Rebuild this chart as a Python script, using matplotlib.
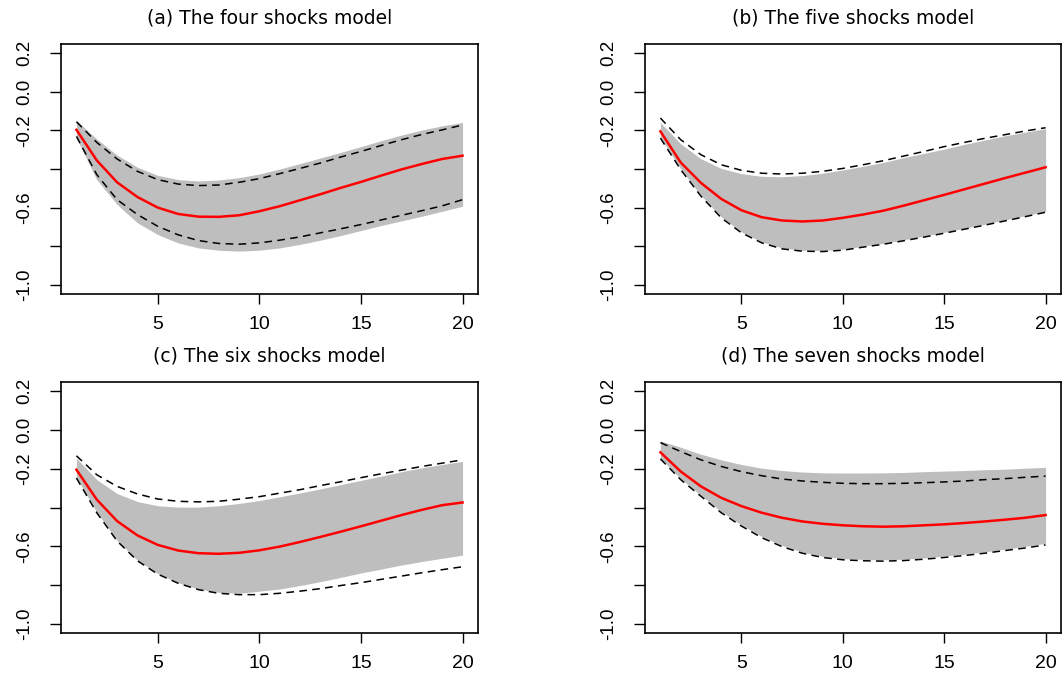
import numpy as np
import matplotlib
matplotlib.use("Agg")
import matplotlib.pyplot as plt

plt.rcParams["font.family"] = ["Liberation Sans", "DejaVu Sans"]

horizon = np.arange(1, 21)

# (a) four shocks
a_mean = [-0.197, -0.355, -0.469, -0.545, -0.600, -0.633, -0.647, -0.648, -0.640, -0.619,
          -0.593, -0.562, -0.531, -0.498, -0.467, -0.434, -0.402, -0.374, -0.348, -0.331]
a_hi = [-0.155, -0.262, -0.348, -0.412, -0.455, -0.478, -0.486, -0.483, -0.469, -0.450,
        -0.424, -0.397, -0.369, -0.338, -0.309, -0.278, -0.248, -0.221, -0.197, -0.172]
a_lo = [-0.231, -0.429, -0.559, -0.636, -0.697, -0.741, -0.771, -0.786, -0.790, -0.783,
        -0.769, -0.752, -0.731, -0.710, -0.688, -0.664, -0.640, -0.616, -0.591, -0.559]
a_band_hi = [-0.148, -0.245, -0.328, -0.391, -0.433, -0.455, -0.462, -0.457, -0.445, -0.426,
             -0.400, -0.372, -0.343, -0.314, -0.284, -0.253, -0.224, -0.198, -0.176, -0.159]
a_band_lo = [-0.240, -0.455, -0.584, -0.679, -0.740, -0.783, -0.809, -0.821, -0.826, -0.821,
             -0.809, -0.791, -0.769, -0.745, -0.719, -0.693, -0.669, -0.645, -0.619, -0.593]

# (b) five shocks
b_mean = [-0.205, -0.366, -0.472, -0.555, -0.614, -0.650, -0.667, -0.672, -0.667, -0.653,
          -0.636, -0.616, -0.590, -0.562, -0.534, -0.505, -0.476, -0.447, -0.419, -0.391]
b_hi = [-0.136, -0.248, -0.326, -0.378, -0.407, -0.422, -0.426, -0.422, -0.412, -0.397,
        -0.378, -0.357, -0.333, -0.309, -0.284, -0.262, -0.241, -0.222, -0.203, -0.186]
b_lo = [-0.240, -0.403, -0.541, -0.653, -0.731, -0.783, -0.814, -0.826, -0.828, -0.821,
        -0.805, -0.790, -0.772, -0.753, -0.733, -0.712, -0.691, -0.669, -0.647, -0.624]
b_band_hi = [-0.159, -0.269, -0.347, -0.397, -0.424, -0.438, -0.440, -0.434, -0.422, -0.405,
             -0.386, -0.366, -0.341, -0.319, -0.297, -0.272, -0.250, -0.228, -0.209, -0.191]
b_band_lo = [-0.236, -0.399, -0.537, -0.648, -0.726, -0.778, -0.809, -0.821, -0.823, -0.816,
             -0.800, -0.785, -0.767, -0.748, -0.728, -0.707, -0.686, -0.664, -0.642, -0.619]

# (c) six shocks
c_mean = [-0.205, -0.359, -0.470, -0.544, -0.593, -0.622, -0.636, -0.639, -0.634, -0.621,
          -0.602, -0.578, -0.552, -0.525, -0.497, -0.468, -0.439, -0.412, -0.388, -0.374]
c_hi = [-0.133, -0.231, -0.291, -0.330, -0.356, -0.368, -0.371, -0.368, -0.357, -0.344,
        -0.326, -0.308, -0.287, -0.267, -0.246, -0.226, -0.207, -0.188, -0.171, -0.154]
c_lo = [-0.248, -0.427, -0.573, -0.675, -0.744, -0.791, -0.824, -0.843, -0.850, -0.850,
        -0.843, -0.832, -0.819, -0.803, -0.788, -0.771, -0.754, -0.737, -0.721, -0.706]
c_band_hi = [-0.145, -0.256, -0.328, -0.369, -0.391, -0.398, -0.398, -0.391, -0.379, -0.364,
             -0.345, -0.325, -0.304, -0.282, -0.260, -0.238, -0.215, -0.195, -0.178, -0.162]
c_band_lo = [-0.245, -0.424, -0.570, -0.672, -0.741, -0.788, -0.821, -0.838, -0.843, -0.832,
             -0.821, -0.803, -0.783, -0.761, -0.738, -0.718, -0.697, -0.679, -0.662, -0.646]

# (d) seven shocks
d_mean = [-0.115, -0.214, -0.291, -0.350, -0.393, -0.427, -0.453, -0.472, -0.484, -0.492,
          -0.497, -0.499, -0.497, -0.492, -0.487, -0.480, -0.472, -0.463, -0.453, -0.439]
d_hi = [-0.065, -0.111, -0.154, -0.188, -0.215, -0.236, -0.253, -0.263, -0.270, -0.275,
        -0.277, -0.277, -0.275, -0.272, -0.268, -0.263, -0.256, -0.251, -0.244, -0.238]
d_lo = [-0.149, -0.256, -0.342, -0.427, -0.496, -0.556, -0.602, -0.636, -0.658, -0.670,
        -0.675, -0.677, -0.674, -0.667, -0.658, -0.648, -0.636, -0.622, -0.609, -0.593]
d_band_hi = [-0.056, -0.089, -0.125, -0.154, -0.178, -0.197, -0.209, -0.217, -0.221, -0.222,
             -0.222, -0.221, -0.219, -0.215, -0.212, -0.209, -0.205, -0.202, -0.197, -0.193]
d_band_lo = [-0.145, -0.251, -0.337, -0.421, -0.490, -0.550, -0.596, -0.630, -0.652, -0.664,
             -0.668, -0.670, -0.667, -0.660, -0.651, -0.641, -0.629, -0.615, -0.601, -0.585]

titles = ["(a) The four shocks model", "(b) The five shocks model",
          "(c) The six shocks model", "(d) The seven shocks model"]
panels = [
    (a_mean, a_hi, a_lo, a_band_hi, a_band_lo),
    (b_mean, b_hi, b_lo, b_band_hi, b_band_lo),
    (c_mean, c_hi, c_lo, c_band_hi, c_band_lo),
    (d_mean, d_hi, d_lo, d_band_hi, d_band_lo),
]
yticks = [0.2, 0.0, -0.2, -0.4, -0.6, -0.8, -1.0]
ytick_labels = ["0.2", "0.0", "-0.2", "", "-0.6", "", "-1.0"]
xticks = [5, 10, 15, 20]

W, H = 1064, 673
fig = plt.figure(figsize=(W / 100, H / 100), dpi=100)

# axes boxes in pixels: left, top, right, bottom
boxes = [(61, 44, 478, 294), (645, 44, 1061, 294),
         (61, 382, 478, 633), (645, 382, 1061, 633)]

for (l, t, r, b), title, (mean, hi, lo, bhi, blo) in zip(boxes, titles, panels):
    ax = fig.add_axes([l / W, 1 - b / H, (r - l) / W, (b - t) / H])
    ax.fill_between(horizon, blo, bhi, color="#bebebe", linewidth=0)
    ax.plot(horizon, hi, color="black", lw=1.1, linestyle=(0, (5, 3.5)))
    ax.plot(horizon, lo, color="black", lw=1.1, linestyle=(0, (5, 3.5)))
    ax.plot(horizon, mean, color="red", lw=1.8)
    ax.set_xlim(0.24, 20.76)
    ax.set_ylim(-1.048, 0.248)
    ax.set_xticks(xticks)
    ax.set_xticklabels([str(v) for v in xticks], fontsize=14)
    ax.set_yticks(yticks)
    ax.set_yticklabels(ytick_labels, fontsize=13.5, rotation=90, va="center")
    ax.tick_params(axis="x", direction="out", length=7, width=1.0, pad=9)
    ax.tick_params(axis="y", direction="out", length=8, width=1.0, pad=12)
    for s in ax.spines.values():
        s.set_linewidth(1.2)
    ax.set_title(title, fontsize=13.5, pad=15, family=["DejaVu Sans"])

fig.savefig("out.png", dpi=100)
